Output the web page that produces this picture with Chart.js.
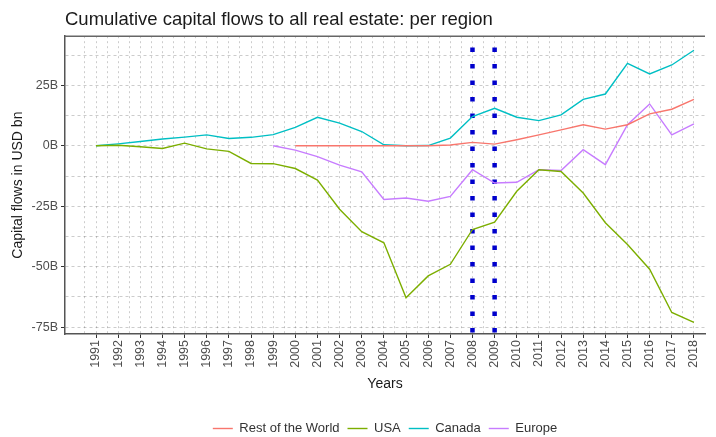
<!DOCTYPE html>
<html>
<head>
<meta charset="utf-8">
<script src="https://cdn.jsdelivr.net/npm/chart.js@4"></script>
<style>
  html, body { margin: 0; padding: 0; background: #fff; }
  #wrap { width: 716px; height: 437px; }
</style>
</head>
<body>
<div id="wrap"><canvas id="chart" width="716" height="437"></canvas></div>
<script>
// values, USD bn
const years = [1991, 1992, 1993, 1994, 1995, 1996, 1997, 1998, 1999, 2000,
  2001, 2002, 2003, 2004, 2005, 2006, 2007, 2008, 2009, 2010,
  2011, 2012, 2013, 2014, 2015, 2016, 2017, 2018];

const restOfWorld = [null, null, null, null, null, null, null, null, null, 0,
  0, 0, 0, 0, 0, 0, 0.3, 1.4, 0.7, 2.5,
  4.5, 6.6, 8.7, 6.9, 8.7, 13.2, 15.1, 19.2];

const usa = [0, 0.2, -0.4, -1.1, 1.1, -1.3, -2.3, -7.3, -7.4, -9.4,
  -14.2, -26.2, -35.5, -40.1, -62.8, -53.8, -49, -34.6, -31.6, -18.8,
  -9.9, -10.6, -19.5, -31.8, -40.8, -51, -68.9, -73];

const canada = [0, 0.8, 1.8, 2.8, 3.6, 4.5, 3, 3.5, 4.6, 7.6,
  11.8, 9.4, 5.9, 0.4, 0, 0.1, 3.2, 12.1, 15.5, 11.8,
  10.4, 12.8, 19.2, 21.4, 34.1, 29.7, 33.4, 39.5];

const europe = [null, null, null, null, null, null, null, null, 0, -1.8,
  -4.5, -8, -10.8, -22.2, -21.6, -22.9, -20.9, -9.9, -15.4, -15.1,
  -9.9, -10.2, -1.6, -7.8, 8.7, 17.3, 4.5, 9.1];

const seriesNames = ['Rest of the World', 'USA', 'Canada', 'Europe'];
const seriesColors = ['#F8766D', '#7CAE00', '#00BFC4', '#C77CFF'];
const crisisYears = [2008, 2009];

const yTickValues = [-75, -62.5, -50, -37.5, -25, -12.5, 0, 12.5, 25, 37.5];
const yLabelValues = [-75, -50, -25, 0, 25];
const X_MIN = 1989.6, X_MAX = 2018.5;
const Y_MIN = -77.8, Y_MAX = 45.3;

const FONT = 'Liberation Sans, Arial, sans-serif';

function pts(arr) {
  return years.map((yr, i) => ({ x: yr, y: arr[i] }));
}

const datasets = [restOfWorld, usa, canada, europe].map((arr, i) => ({
  label: seriesNames[i],
  data: pts(arr),
  borderColor: seriesColors[i],
  backgroundColor: seriesColors[i],
  borderWidth: 1.4,
  pointRadius: 0,
  tension: 0,
  fill: false
}));

crisisYears.forEach(yr => {
  datasets.push({
    label: 'crisis',
    data: [{ x: yr, y: 40.6 }, { x: yr, y: Y_MIN }],
    borderColor: '#0000CC',
    borderWidth: 4.5,
    borderDash: [4.5, 12],
    borderCapStyle: 'butt',
    pointRadius: 0,
    fill: false
  });
});

const gridColor = 'rgba(0,0,0,0.2)';

new Chart(document.getElementById('chart'), {
  type: 'line',
  data: { datasets },
  options: {
    responsive: false,
    animation: false,
    layout: { padding: { left: 0, right: 11, top: 0, bottom: -8 } },
    plugins: {
      title: {
        display: true,
        text: 'Cumulative capital flows to all real estate: per region',
        align: 'start',
        fullSize: false,
        color: '#1a1a1a',
        font: { family: FONT, size: 18.5, weight: 'normal' },
        padding: { top: 9, bottom: 5 }
      },
      legend: {
        position: 'bottom',
        fullSize: false,
        labels: {
          filter: item => item.text !== 'crisis',
          usePointStyle: true,
          pointStyle: 'line',
          pointStyleWidth: 20,
          color: '#333',
          font: { family: FONT, size: 13 },
          padding: 8
        }
      },
      tooltip: { enabled: false }
    },
    scales: {
      x: {
        type: 'linear',
        min: X_MIN,
        max: X_MAX,
        afterBuildTicks: scale => {
          const t = [];
          years.forEach(yr => { t.push({ value: yr - 0.5 }); t.push({ value: yr }); });
          scale.ticks = t.filter(o => o.value >= X_MIN && o.value <= X_MAX);
        },
        afterFit: scale => { scale.height = 80; },
        ticks: {
          autoSkip: false,
          minRotation: 90,
          maxRotation: 90,
          padding: 2,
          color: '#4d4d4d',
          font: { family: FONT, size: 12.5 },
          callback: v => Number.isInteger(v) ? String(v) : ''
        },
        grid: {
          color: gridColor,
          lineWidth: 1,
          tickLength: 4,
          tickColor: c => (c.tick && Number.isInteger(c.tick.value)) ? '#333' : 'rgba(0,0,0,0)'
        },
        border: { display: true, color: '#555', width: 1.5, dash: [2, 3] },
        title: {
          display: true,
          text: 'Years',
          color: '#1a1a1a',
          font: { family: FONT, size: 14 },
          padding: { top: 2, bottom: 21 }
        }
      },
      y: {
        min: Y_MIN,
        max: Y_MAX,
        afterBuildTicks: scale => {
          scale.ticks = yTickValues.map(v => ({ value: v }));
        },
        afterFit: scale => { scale.width = 65; },
        ticks: {
          autoSkip: false,
          padding: 3,
          color: '#4d4d4d',
          font: { family: FONT, size: 12.5 },
          callback: v => yLabelValues.includes(v) ? v + 'B' : ''
        },
        grid: {
          color: gridColor,
          lineWidth: 1,
          tickLength: 4,
          tickColor: c => (c.tick && yLabelValues.includes(c.tick.value)) ? '#333' : 'rgba(0,0,0,0)'
        },
        border: { display: true, color: '#555', width: 1.5, dash: [3, 3] },
        title: {
          display: true,
          text: 'Capital flows in USD bn',
          color: '#1a1a1a',
          font: { family: FONT, size: 14 },
          padding: { top: 10, bottom: 2 }
        }
      }
    }
  },
  plugins: [{
    // top edge of the panel
    id: 'topEdge',
    afterDraw(chart) {
      const a = chart.chartArea, ctx = chart.ctx;
      ctx.save();
      ctx.strokeStyle = '#666';
      ctx.lineWidth = 1.5;
      ctx.beginPath();
      ctx.moveTo(a.left, a.top);
      ctx.lineTo(a.right, a.top);
      ctx.stroke();
      ctx.restore();
    }
  }]
});
</script>
</body>
</html>
